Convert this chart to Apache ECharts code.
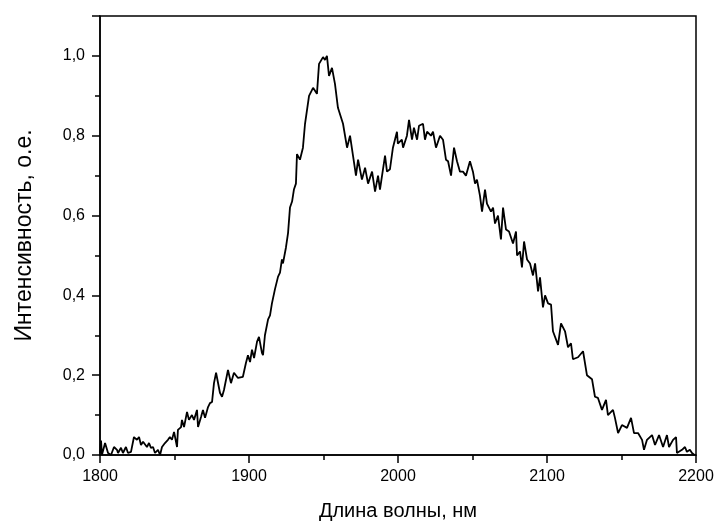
<!DOCTYPE html>
<html><head><meta charset="utf-8">
<script src="https://cdn.jsdelivr.net/npm/echarts@6/dist/echarts.min.js"></script>
<style>html,body{margin:0;padding:0;background:#fff}#c{width:715px;height:524px}</style>
</head><body><div id="c"></div>
<script>
const wavelength = [1800.0,1800.7,1801.3,1803.4,1805.4,1807.4,1809.4,1811.4,1812.1,1814.1,1815.4,1817.4,1818.8,1820.8,1822.8,1824.8,1826.2,1827.5,1828.9,1831.5,1832.9,1834.2,1835.6,1836.9,1838.9,1840.3,1841.6,1843.6,1845.6,1846.9,1848.3,1849.7,1851.7,1852.3,1854.4,1855.0,1856.4,1858.4,1859.7,1861.7,1863.1,1865.1,1865.8,1867.8,1869.1,1870.5,1872.5,1873.8,1875.2,1876.5,1877.9,1879.2,1880.5,1881.9,1883.2,1885.9,1887.9,1889.9,1892.6,1895.9,1897.9,1899.3,1900.7,1902.0,1903.4,1905.4,1906.7,1908.7,1909.4,1910.7,1912.8,1914.1,1915.4,1917.4,1919.5,1920.8,1922.1,1922.8,1924.8,1926.2,1927.5,1928.9,1930.2,1931.5,1932.2,1934.2,1936.2,1937.6,1940.3,1943.0,1945.6,1947.0,1949.7,1951.0,1952.3,1953.7,1955.7,1957.7,1959.7,1963.1,1965.8,1967.8,1969.8,1971.8,1973.2,1975.8,1977.9,1979.9,1982.6,1984.6,1986.6,1987.9,1991.3,1992.6,1994.6,1996.6,1999.3,1999.9,2002.6,2003.4,2006.0,2007.4,2009.4,2010.7,2012.8,2014.1,2016.8,2018.1,2019.5,2022.1,2023.5,2025.5,2028.2,2029.5,2030.2,2032.2,2033.6,2035.6,2037.6,2039.6,2041.6,2043.6,2045.6,2048.3,2050.3,2051.7,2053.0,2055.0,2056.4,2058.4,2059.7,2062.4,2063.8,2065.1,2067.1,2069.1,2070.5,2072.5,2074.5,2075.2,2077.2,2079.2,2079.9,2081.9,2083.2,2084.6,2086.6,2088.6,2090.6,2092.0,2094.0,2095.3,2097.3,2098.7,2100.7,2102.7,2104.0,2107.4,2109.4,2112.1,2114.1,2116.1,2117.4,2120.8,2124.2,2126.8,2130.2,2132.2,2134.2,2136.9,2139.6,2140.9,2144.3,2145.6,2147.7,2150.3,2153.7,2156.4,2158.4,2161.1,2163.8,2165.1,2167.1,2170.5,2172.5,2175.2,2177.9,2180.5,2181.9,2184.6,2186.6,2187.2,2190.6,2192.6,2193.9,2195.9,2197.3,2199.0];
const intensity = [0.005,0.036,0.0,0.03,0.005,0.0,0.02,0.013,0.005,0.018,0.005,0.02,0.005,0.008,0.045,0.038,0.045,0.025,0.033,0.02,0.03,0.018,0.02,0.005,0.013,0.0,0.02,0.03,0.038,0.045,0.038,0.058,0.02,0.063,0.07,0.088,0.07,0.108,0.088,0.10,0.088,0.113,0.07,0.095,0.113,0.093,0.12,0.13,0.133,0.18,0.206,0.21,0.156,0.146,0.163,0.213,0.18,0.206,0.193,0.196,0.23,0.25,0.233,0.264,0.243,0.284,0.296,0.256,0.25,0.30,0.34,0.35,0.38,0.415,0.447,0.457,0.49,0.48,0.52,0.556,0.62,0.635,0.666,0.68,0.754,0.74,0.77,0.83,0.90,0.92,0.905,0.98,0.997,0.99,1.0,0.95,0.97,0.93,0.87,0.83,0.77,0.80,0.75,0.70,0.74,0.69,0.72,0.68,0.71,0.66,0.70,0.665,0.75,0.71,0.716,0.77,0.81,0.78,0.79,0.77,0.80,0.84,0.79,0.82,0.79,0.825,0.83,0.79,0.81,0.80,0.81,0.77,0.80,0.80,0.79,0.74,0.736,0.70,0.77,0.736,0.71,0.71,0.70,0.736,0.71,0.68,0.69,0.65,0.61,0.665,0.63,0.61,0.62,0.58,0.60,0.54,0.62,0.565,0.56,0.56,0.53,0.56,0.50,0.51,0.47,0.535,0.49,0.48,0.45,0.48,0.41,0.445,0.37,0.40,0.38,0.377,0.31,0.276,0.33,0.31,0.27,0.28,0.24,0.245,0.26,0.20,0.19,0.146,0.143,0.113,0.138,0.10,0.113,0.093,0.055,0.075,0.068,0.093,0.055,0.055,0.038,0.013,0.038,0.05,0.025,0.05,0.02,0.05,0.02,0.038,0.045,0.005,0.013,0.02,0.008,0.013,0.005,0.0];
const xTitle = 'Длина волны, нм';
const yTitle = 'Интенсивность, о.е.';

const pts = wavelength.map((w, i) => [w, intensity[i]]);
const font = 'Liberation Sans, Arial, sans-serif';
const chart = echarts.init(document.getElementById('c'));
chart.setOption({
  animation: false,
  grid: { left: 100, right: 19, top: 16, bottom: 69, containLabel: false, outerBoundsMode: 'none',
    show: true, borderColor: '#000', borderWidth: 1.5, backgroundColor: 'transparent' },
  xAxis: {
    type: 'value', min: 1800, max: 2200, interval: 100,
    name: xTitle, nameLocation: 'middle', nameGap: 46,
    nameTextStyle: { fontFamily: font, fontSize: 20, color: '#000' },
    axisLine: { show: true, lineStyle: { color: '#000', width: 1.5 } },
    axisTick: { show: true, inside: false, length: 8, lineStyle: { color: '#000', width: 1.5 } },
    minorTick: { show: true, splitNumber: 2, length: 5, lineStyle: { color: '#000', width: 1.5 } },
    axisLabel: { fontFamily: font, fontSize: 16, color: '#000', margin: 14, formatter: v => String(v) },
    splitLine: { show: false }
  },
  yAxis: {
    type: 'value', min: 0, max: 1.1, interval: 0.2,
    name: yTitle, nameLocation: 'middle', nameGap: 64, nameRotate: 90,
    nameTextStyle: { fontFamily: font, fontSize: 23, color: '#000' },
    axisLine: { show: true, lineStyle: { color: '#000', width: 1.5 } },
    axisTick: { show: true, inside: false, length: 8, lineStyle: { color: '#000', width: 1.5 } },
    minorTick: { show: true, splitNumber: 2, length: 5, lineStyle: { color: '#000', width: 1.5 } },
    axisLabel: { fontFamily: font, fontSize: 16, color: '#000', margin: 15,
      formatter: v => (Math.abs(v - 1.1) < 1e-9) ? '' : v.toFixed(1).replace('.', ',') },
    splitLine: { show: false }
  },
  series: [{
    type: 'line', data: pts, showSymbol: false, smooth: false,
    lineStyle: { color: '#000', width: 1.8 }
  }]
});
</script></body></html>
